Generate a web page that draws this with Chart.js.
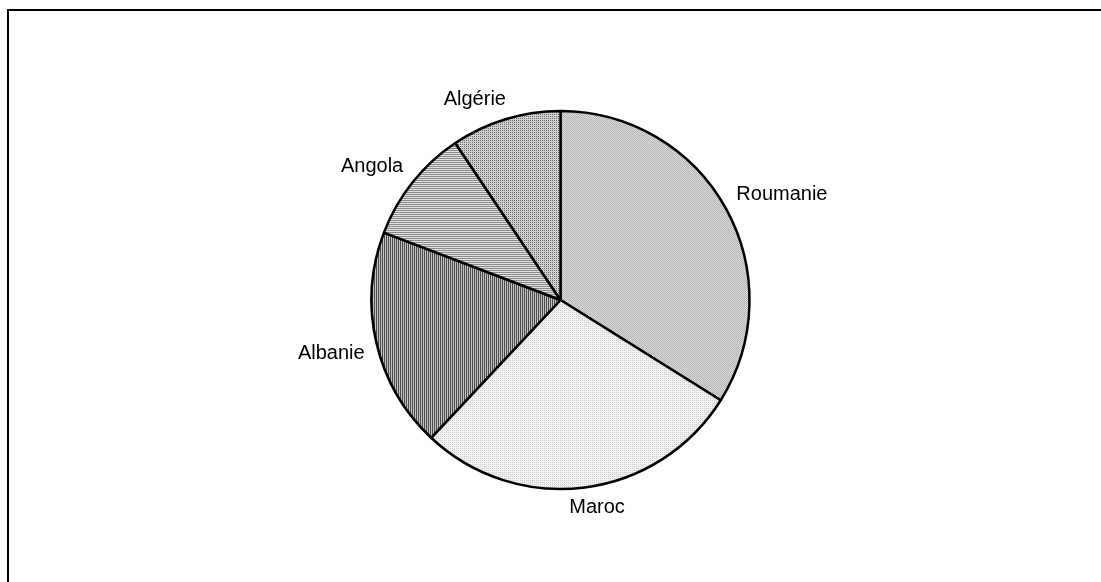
<!DOCTYPE html>
<html lang="fr">
<head>
<meta charset="utf-8">
<title>Répartition par pays</title>
<script src="https://cdn.jsdelivr.net/npm/chart.js@4/dist/chart.umd.min.js"></script>
<style>
  html, body { margin: 0; padding: 0; background: #fff; overflow: hidden; }
  #zone { position: relative; width: 1101px; height: 582px; }
  #cadre {
    position: absolute; left: 7px; top: 9px; width: 2000px; height: 2000px;
    border-top: 2px solid #000; border-left: 2px solid #000;
  }
  #camembert { position: absolute; left: 0; top: 0; }
</style>
</head>
<body>
<div id="zone">
  <div id="cadre"></div>
  <canvas id="camembert" width="1101" height="582"></canvas>
</div>
<script>
// Parts par pays (%), dans l'ordre des secteurs à partir de midi
const pays = ['Roumanie', 'Maroc', 'Albanie', 'Angola', 'Algérie'];
const parts = [33.9, 28.1, 18.8, 9.8, 9.4];

// Trames de remplissage façon impression noir et blanc
function trame(taille, dessin) {
  const c = document.createElement('canvas');
  c.width = taille; c.height = taille;
  const g = c.getContext('2d');
  for (let y = 0; y < taille; y++) {
    for (let x = 0; x < taille; x++) {
      g.fillStyle = dessin(x, y);
      g.fillRect(x, y, 1, 1);
    }
  }
  return g.createPattern(c, 'repeat');
}

const trames = [
  trame(2, (x, y) => (x + y) % 2 === 0 ? '#b4b4b4' : '#dadada'),            // Roumanie
  trame(2, (x, y) => (x === 0 && y === 0) ? '#cfcfcf' : '#f1f1f1'),        // Maroc
  trame(2, (x, y) => x === 0 ? '#4a4a4a' : '#c4c4c4'),                     // Albanie
  trame(2, (x, y) => y === 0 ? '#8a8a8a' : '#e2e2e2'),                     // Angola
  trame(2, (x, y) => (x === 0 && y === 0) ? '#6a6a6a' : '#d0d0d0')         // Algérie
];

// Étiquettes posées à l'extérieur, au milieu de chaque secteur
const etiquettes = {
  id: 'etiquettes',
  afterDatasetsDraw(chart) {
    const ctx = chart.ctx;
    const meta = chart.getDatasetMeta(0);
    ctx.save();
    ctx.font = '20px "Liberation Sans", Arial, sans-serif';
    ctx.fillStyle = '#000';
    ctx.textBaseline = 'alphabetic';
    meta.data.forEach((arc, i) => {
      const p = arc.getProps(['x', 'y', 'startAngle', 'endAngle', 'outerRadius'], true);
      const mid = (p.startAngle + p.endAngle) / 2;
      const r = p.outerRadius + 12;
      const px = p.x + Math.cos(mid) * r;
      const py = p.y + Math.sin(mid) * r;
      const texte = chart.data.labels[i];
      const w = ctx.measureText(texte).width;
      const s = Math.max(-1, Math.min(1, Math.cos(mid) * 3));
      const gauche = px - w * (1 - s) / 2;
      const base = Math.sin(mid) < 0 ? py - 3 : py + 14;
      ctx.textAlign = 'left';
      ctx.fillText(texte, gauche, base);
    });
    ctx.restore();
  }
};

new Chart(document.getElementById('camembert'), {
  type: 'pie',
  data: {
    labels: pays,
    datasets: [{
      data: parts,
      backgroundColor: trames,
      borderColor: '#000',
      borderWidth: 2.5,
      radius: 189
    }]
  },
  options: {
    responsive: false,
    animation: false,
    events: [],
    layout: { padding: { left: 20, right: 0, top: 18, bottom: 0 } },
    plugins: {
      legend: { display: false },
      tooltip: { enabled: false },
      title: { display: false }
    }
  },
  plugins: [etiquettes]
});
</script>
</body>
</html>
